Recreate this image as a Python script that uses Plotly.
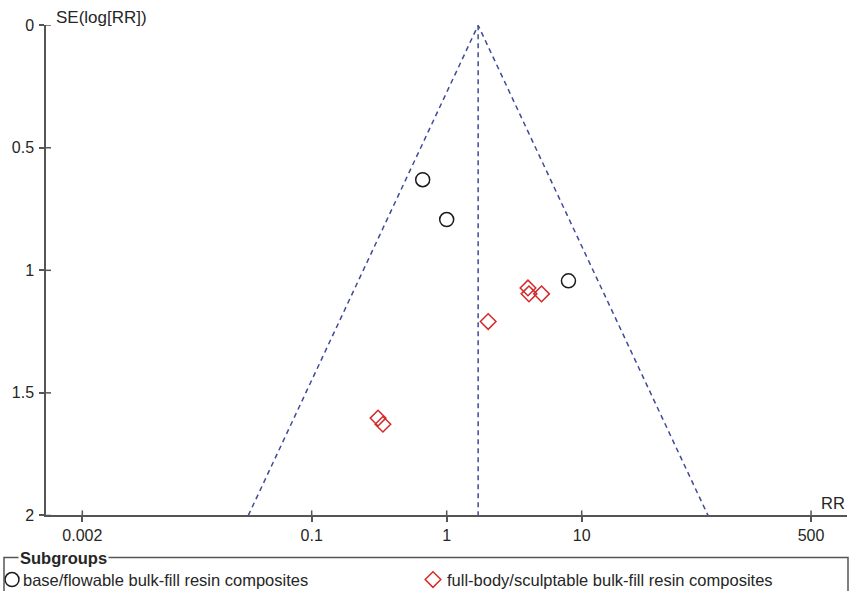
import numpy as np
import plotly.graph_objects as go

# ---- data ----
base_rr = [0.664, 1.0, 7.98]
base_se = [0.630, 0.793, 1.043]
full_rr = [4.0, 4.07, 5.04, 2.03, 0.310, 0.337]
full_se = [1.072, 1.096, 1.096, 1.209, 1.603, 1.628]
pooled_rr = 1.71
se_max = 2.0
x_tickvals = [0.002, 0.1, 1, 10, 500]
x_ticktext = ["0.002", "0.1", "1", "10", "500"]
y_tickvals = [0, 0.5, 1, 1.5, 2]
y_ticktext = ["0", "0.5", "1", "1.5", "2"]
legend_names = ["base/flowable bulk-fill resin composites",
                "full-body/sculptable bulk-fill resin composites"]

FONT = "Liberation Sans, Arial, sans-serif"
TXT = "#262626"
AX = "#555555"
FUN = "#3f4a98"
RED = "#d42a2a"

W, H = 857, 600
# observed vertical mapping of the viewer: pixel = TOP + EFF * (1 - paper_y)
TOP, EFF = 8.8, 581.6


def py(r):
    return 1 - (r - TOP) / EFF


x_dom = [46 / W, 846.7 / W]
y_dom = [py(515), py(26)]
xr = [-2.968, 2.963]
plot_w = (x_dom[1] - x_dom[0]) * W
plot_h = (y_dom[1] - y_dom[0]) * EFF
TICK_IN = 5

fig = go.Figure()

# funnel
lo = pooled_rr * np.exp(-1.96 * se_max)
hi = pooled_rr * np.exp(1.96 * se_max)
fig.add_trace(go.Scatter(x=[lo, pooled_rr, hi], y=[se_max, 0, se_max], mode="lines",
                         line=dict(color=FUN, width=1.5, dash="5px,4px"),
                         hoverinfo="skip", showlegend=False))
fig.add_trace(go.Scatter(x=[pooled_rr, pooled_rr], y=[0, se_max], mode="lines",
                         line=dict(color=FUN, width=1.5, dash="5px,4px"),
                         hoverinfo="skip", showlegend=False))

# points
fig.add_trace(go.Scatter(x=base_rr, y=base_se, mode="markers", name=legend_names[0],
                         marker=dict(symbol="circle-open", size=14, color="#1a1a1a",
                                     line=dict(width=1.5)), showlegend=False))
fig.add_trace(go.Scatter(x=full_rr, y=full_se, mode="markers", name=legend_names[1],
                         marker=dict(symbol="diamond-open", size=12, color=RED,
                                     line=dict(width=1.5)), showlegend=False))

# legend symbols on pixel-like axes
fig.add_trace(go.Scatter(x=[12], y=[579], xaxis="x2", yaxis="y2", mode="markers",
                         marker=dict(symbol="circle-open", size=14, color="#1a1a1a", line=dict(width=1.5)),
                         showlegend=False, hoverinfo="skip"))
fig.add_trace(go.Scatter(x=[433], y=[579], xaxis="x2", yaxis="y2", mode="markers",
                         marker=dict(symbol="diamond-open", size=12, color=RED, line=dict(width=1.5)),
                         showlegend=False, hoverinfo="skip"))

axis_common = dict(showgrid=False, zeroline=False, showline=True, linecolor=AX, linewidth=1.5,
                   tickcolor=AX, tickwidth=1.5, tickfont=dict(family=FONT, size=16, color=TXT))

fig.update_layout(
    width=W, height=H, autosize=False, margin=dict(l=0, r=0, t=0, b=0),
    paper_bgcolor="white", plot_bgcolor="rgba(0,0,0,0)",
    xaxis=dict(type="log", range=xr, domain=x_dom, anchor="y", tickvals=x_tickvals,
               ticktext=x_ticktext, ticks="outside", ticklen=5, **axis_common),
    yaxis=dict(range=[se_max, 0], domain=y_dom, anchor="x", tickvals=y_tickvals,
               ticktext=y_ticktext, ticks="outside", ticklen=5, ticklabelstandoff=2, **axis_common),
    xaxis2=dict(domain=[0, 1], range=[0, W], anchor="y2", visible=False, fixedrange=True),
    yaxis2=dict(domain=[0, 1], range=[TOP + EFF, TOP], anchor="x2", visible=False, fixedrange=True),
    showlegend=False,
)

# inside halves of the crossing tick marks
for tv in x_tickvals:
    fig.add_shape(type="line", xref="x", yref="y domain", x0=tv, x1=tv, y0=0, y1=TICK_IN / plot_h,
                  line=dict(color=AX, width=1.5))
for tv in y_tickvals:
    fig.add_shape(type="line", xref="x domain", yref="y", x0=0, x1=TICK_IN / plot_w, y0=tv, y1=tv,
                  line=dict(color=AX, width=1.5))

fig.add_shape(type="rect", xref="x2", yref="y2", x0=4, x1=848, y0=557, y1=597,
              line=dict(color=AX, width=1.5), fillcolor="rgba(0,0,0,0)")

annots = [
    dict(text="SE(log[RR])", xref="x2", yref="y2", x=54, y=18,
         xanchor="left", yanchor="middle", font=dict(size=17)),
    dict(text="RR", xref="x2", yref="y2", x=847, y=503,
         xanchor="right", yanchor="middle", font=dict(size=16.5)),
    dict(text="<b>Subgroups</b>", xref="x2", yref="y2", x=18, y=557,
         xanchor="left", yanchor="middle", font=dict(size=16.5), bgcolor="white", borderpad=1),
    dict(text=legend_names[0], xref="x2", yref="y2", x=21, y=579,
         xanchor="left", yanchor="middle", font=dict(size=16.5)),
    dict(text=legend_names[1], xref="x2", yref="y2", x=445, y=579,
         xanchor="left", yanchor="middle", font=dict(size=16.5)),
]
for a in annots:
    a["showarrow"] = False
    a["font"].update(family=FONT, color=TXT)
    fig.add_annotation(**a)

fig.write_html("out.html", config={"responsive": False, "displayModeBar": False},
               post_script="document.body.style.margin='0';document.body.style.overflow='hidden';")
